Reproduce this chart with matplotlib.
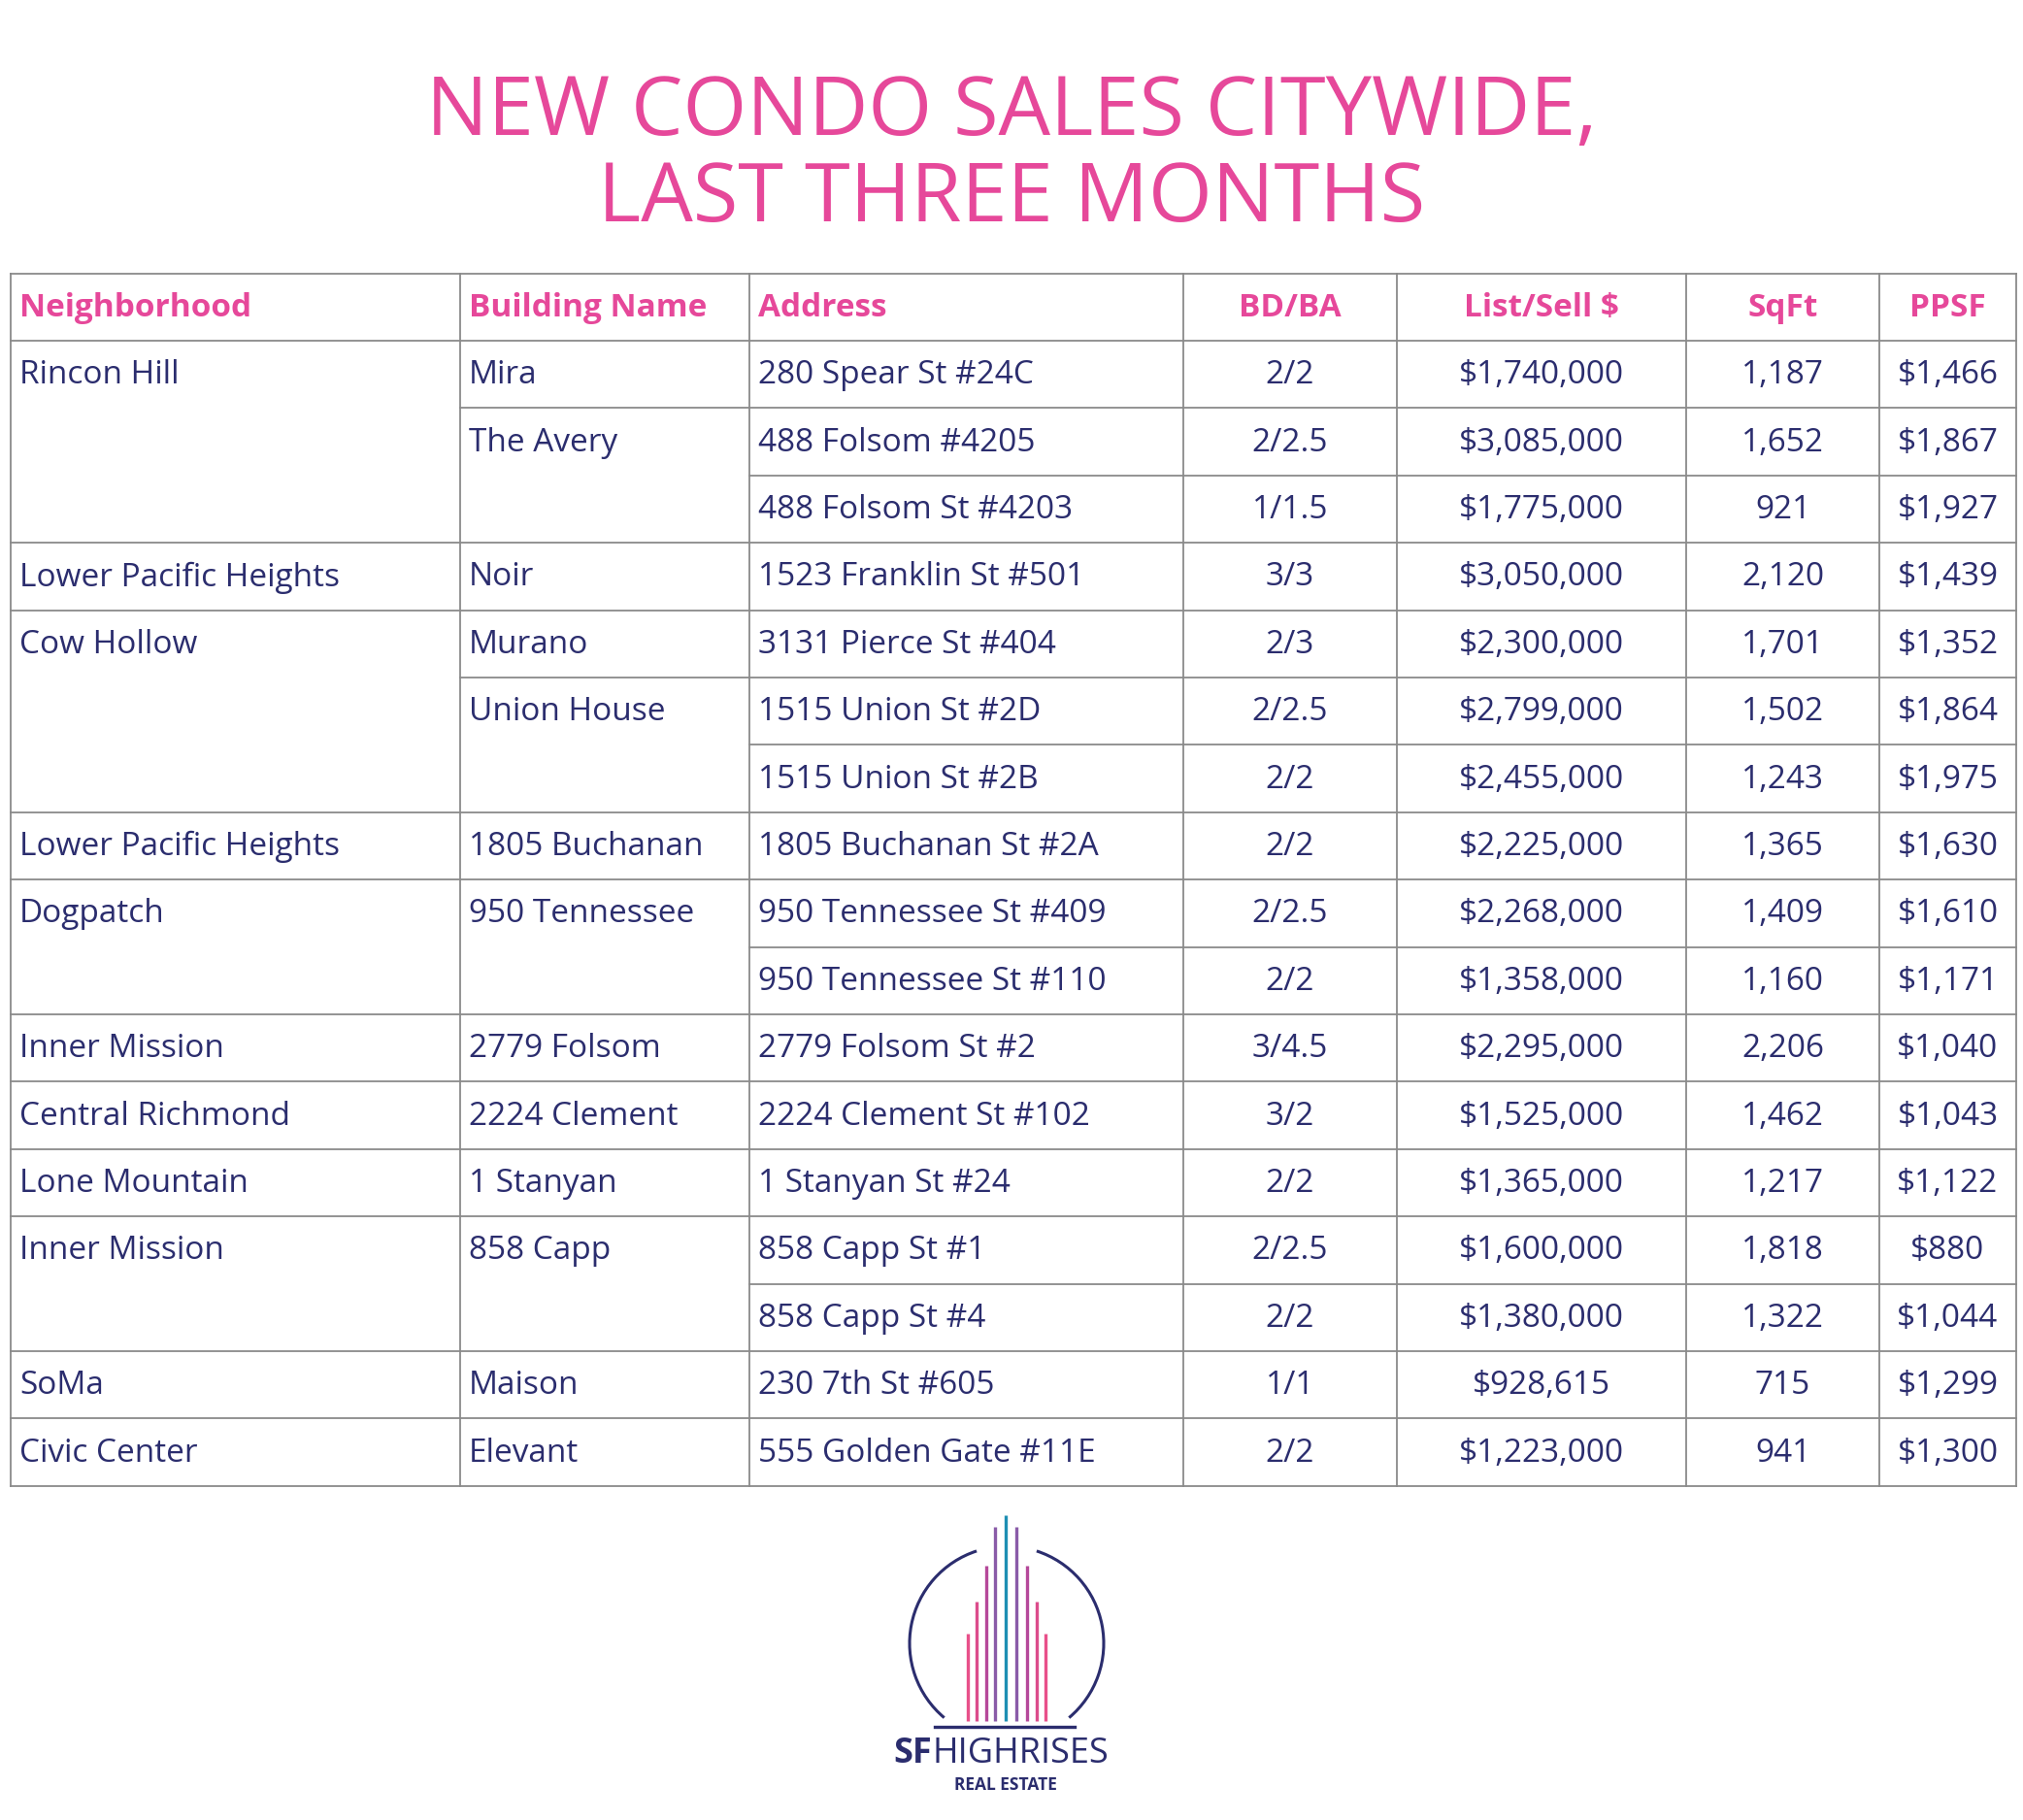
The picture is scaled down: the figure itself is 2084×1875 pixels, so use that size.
import matplotlib
matplotlib.use("Agg")
import matplotlib.pyplot as plt
from matplotlib.patches import Arc

headers = ["Neighborhood", "Building Name", "Address", "BD/BA", "List/Sell $", "SqFt", "PPSF"]
neighborhoods = ["Rincon Hill", "", "", "Lower Pacific Heights", "Cow Hollow", "", "", "Lower Pacific Heights",
                 "Dogpatch", "", "Inner Mission", "Central Richmond", "Lone Mountain", "Inner Mission", "", "SoMa", "Civic Center"]
buildings = ["Mira", "The Avery", "", "Noir", "Murano", "Union House", "", "1805 Buchanan", "950 Tennessee", "",
             "2779 Folsom", "2224 Clement", "1 Stanyan", "858 Capp", "", "Maison", "Elevant"]
addresses = ["280 Spear St #24C", "488 Folsom #4205", "488 Folsom St #4203", "1523 Franklin St #501", "3131 Pierce St #404",
             "1515 Union St #2D", "1515 Union St #2B", "1805 Buchanan St #2A", "950 Tennessee St #409", "950 Tennessee St #110",
             "2779 Folsom St #2", "2224 Clement St #102", "1 Stanyan St #24", "858 Capp St #1", "858 Capp St #4",
             "230 7th St #605", "555 Golden Gate #11E"]
bdba = ["2/2", "2/2.5", "1/1.5", "3/3", "2/3", "2/2.5", "2/2", "2/2", "2/2.5", "2/2", "3/4.5", "3/2", "2/2", "2/2.5", "2/2", "1/1", "2/2"]
prices = ["$1,740,000", "$3,085,000", "$1,775,000", "$3,050,000", "$2,300,000", "$2,799,000", "$2,455,000", "$2,225,000",
          "$2,268,000", "$1,358,000", "$2,295,000", "$1,525,000", "$1,365,000", "$1,600,000", "$1,380,000", "$928,615", "$1,223,000"]
sqft = ["1,187", "1,652", "921", "2,120", "1,701", "1,502", "1,243", "1,365", "1,409", "1,160", "2,206", "1,462", "1,217",
        "1,818", "1,322", "715", "941"]
ppsf = ["$1,466", "$1,867", "$1,927", "$1,439", "$1,352", "$1,864", "$1,975", "$1,630", "$1,610", "$1,171", "$1,040",
        "$1,043", "$1,122", "$880", "$1,044", "$1,299", "$1,300"]

PINK = "#E6489A"
NAVY = "#2B2D6E"
GRID = "#8a8a8a"
FONT = "Open Sans"

W, H = 2084, 1875
fig = plt.figure(figsize=(W / 100, H / 100), dpi=100)
ax = fig.add_axes([0, 0, 1, 1])
ax.set_xlim(0, W)
ax.set_ylim(H, 0)
ax.axis("off")

ax.text(W / 2, 117, "NEW CONDO SALES CITYWIDE,", ha="center", va="center", fontsize=61, color=PINK, family=FONT)
ax.text(W / 2, 206, "LAST THREE MONTHS", ha="center", va="center", fontsize=61, color=PINK, family=FONT)

colx = [11, 474, 772, 1219, 1439, 1737, 1936, 2077]
top, hdr_bot, rowh = 282, 351, 69.4
n = len(addresses)
bottom = hdr_bot + n * rowh
lw = 1.3

for x in colx:
    ax.plot([x, x], [top, bottom], color=GRID, lw=lw)
ax.plot([colx[0], colx[-1]], [top, top], color=GRID, lw=lw)
ax.plot([colx[0], colx[-1]], [hdr_bot, hdr_bot], color=GRID, lw=lw)

cols = [neighborhoods, buildings, addresses, bdba, prices, sqft, ppsf]
for i in range(1, n + 1):
    y = hdr_bot + i * rowh
    if i == n or neighborhoods[i]:
        start = 0
    elif buildings[i]:
        start = 1
    else:
        start = 2
    ax.plot([colx[start], colx[-1]], [y, y], color=GRID, lw=lw)

fs = 24
centered = [False, False, False, True, True, True, True]
for j, h in enumerate(headers):
    x = (colx[j] + colx[j + 1]) / 2 if centered[j] else colx[j] + 9
    ax.text(x, (top + hdr_bot) / 2 + 1, h, ha="center" if centered[j] else "left", va="center",
            fontsize=fs, color=PINK, family=FONT, fontweight="bold")
for i in range(n):
    yc = hdr_bot + i * rowh + rowh / 2 + 1
    for j, col in enumerate(cols):
        if not col[i]:
            continue
        x = (colx[j] + colx[j + 1]) / 2 if centered[j] else colx[j] + 9
        ax.text(x, yc, col[i], ha="center" if centered[j] else "left", va="center",
                fontsize=fs, color=NAVY, family=FONT)

# logo
cx, cy, r = 1037, 1693, 100
ax.add_patch(Arc((cx, cy), 2 * r, 2 * r, theta1=-230, theta2=-108, color=NAVY, lw=2.2))
ax.add_patch(Arc((cx, cy), 2 * r, 2 * r, theta1=-72, theta2=50, color=NAVY, lw=2.2))
bar_x = [997, 1006, 1016, 1025, 1036, 1047, 1058, 1068, 1077]
bar_top = [1683, 1650, 1613, 1573, 1561, 1573, 1613, 1650, 1683]
bar_c = ["#E8508A", "#DC4C8C", "#B5489A", "#8A5BA8", "#1E8FB3", "#8A5BA8", "#B5489A", "#DC4C8C", "#E8508A"]
for x, t, c in zip(bar_x, bar_top, bar_c):
    ax.plot([x, x], [t, 1773], color=c, lw=2.4, solid_capstyle="butt")
ax.plot([963, 1107], [1779, 1779], color=NAVY, lw=2.4)
ax.text(960, 1807, "SF", ha="right", va="center", fontsize=26, color=NAVY, family=FONT, fontweight="bold")
ax.text(960, 1807, "HIGHRISES", ha="left", va="center", fontsize=26, color=NAVY, family=FONT)
ax.text(1036, 1839, "REAL ESTATE", ha="center", va="center", fontsize=12.5, color=NAVY, family=FONT, fontweight="bold")

fig.savefig("out.png", dpi=100, facecolor="white")
